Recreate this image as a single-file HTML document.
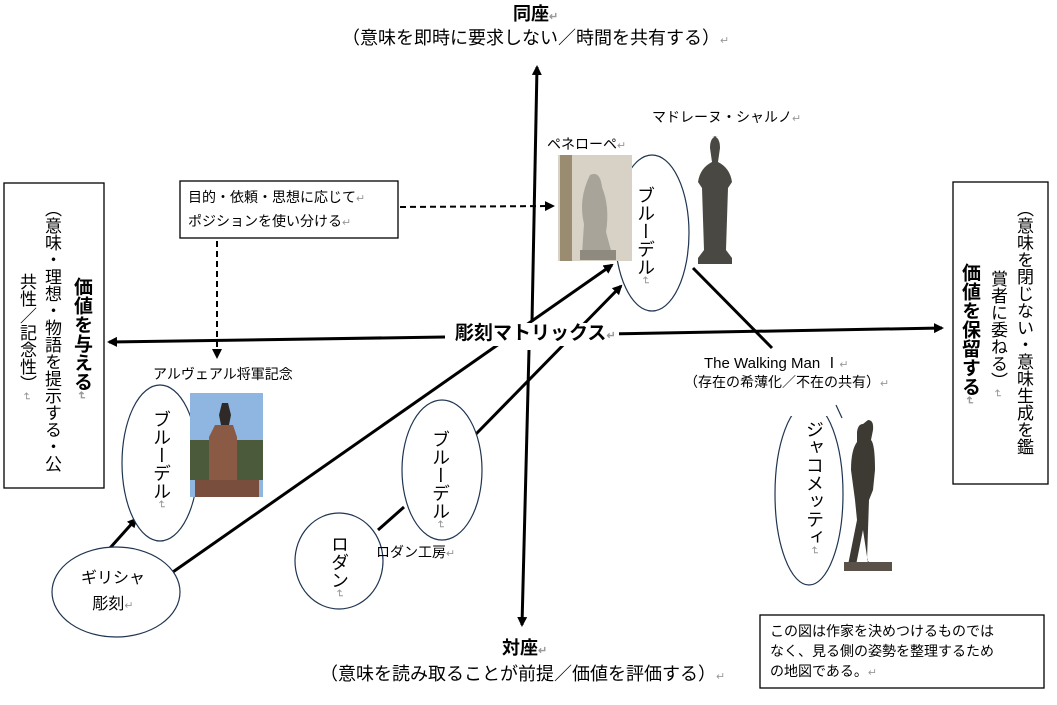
<!DOCTYPE html>
<html><head><meta charset="utf-8">
<style>
body{margin:0;background:#fff;}
#c{position:relative;width:1057px;height:705px;overflow:hidden;background:#fff;font-family:"Liberation Sans","Noto Sans CJK JP",sans-serif;color:#000;}
.t{position:absolute;white-space:nowrap;line-height:1.2;}
.v{position:absolute;writing-mode:vertical-rl;white-space:nowrap;line-height:1;}
.g{color:#999;font-size:11px;}
</style></head><body><div id="c">
<svg width="1057" height="705" style="position:absolute;left:0;top:0">
<defs>
<marker id="a" markerWidth="10" markerHeight="10" refX="8" refY="5" orient="auto" markerUnits="userSpaceOnUse"><path d="M0,0 L10,5 L0,10 z" fill="#000"/></marker>
</defs>
<g stroke="#000" stroke-width="3" fill="none">
<line x1="532" y1="322" x2="537" y2="67" marker-end="url(#a)"/>
<line x1="529" y1="350" x2="522" y2="625" marker-end="url(#a)"/>
<line x1="445" y1="337" x2="109" y2="342" marker-end="url(#a)"/>
<line x1="605" y1="334" x2="942" y2="328" marker-end="url(#a)"/>
<line x1="150" y1="588" x2="612" y2="265" marker-end="url(#a)"/>
<line x1="476" y1="434" x2="621" y2="286" marker-end="url(#a)"/>
<line x1="378" y1="530" x2="404" y2="507"/>
<line x1="110" y1="548" x2="136" y2="519" marker-end="url(#a)"/>
<line x1="693" y1="268" x2="772" y2="348"/>
</g>
<g stroke="#000" stroke-width="2" stroke-dasharray="6,4" fill="none">
<line x1="400" y1="207" x2="553" y2="206" marker-end="url(#a)"/>
<line x1="217" y1="241" x2="217" y2="357" marker-end="url(#a)"/>
</g>
<g stroke="#1f3550" stroke-width="1.2" fill="#fff">
<ellipse cx="652" cy="233" rx="37" ry="78"/>
<ellipse cx="160" cy="463" rx="38" ry="78"/>
<ellipse cx="116" cy="592" rx="64" ry="45"/>
<ellipse cx="339" cy="561" rx="44" ry="48"/>
<ellipse cx="442" cy="470" rx="40" ry="70"/>
<ellipse cx="809" cy="494" rx="34" ry="91"/>
</g>
<rect x="776" y="398" width="60" height="18" fill="#fff"/>
<line x1="836" y1="405" x2="842" y2="418" stroke="#1f3550" stroke-width="1.2"/>
<g fill="none" stroke="#000" stroke-width="1.3">
<rect x="4" y="183" width="100" height="305"/>
<rect x="953" y="182" width="95" height="302"/>
<rect x="180" y="181" width="218" height="57"/>
<rect x="760" y="615" width="284" height="73"/>
</g>
<rect x="558" y="155" width="74" height="106" fill="#d8d2c6"/>
<rect x="560" y="155" width="12" height="106" fill="#9a8c70"/>
<path d="M590,175 q10,-5 12,12 q8,20 4,45 l6,22 h-30 l2,-30 q-6,-25 6,-49z" fill="#a8a49a"/>
<rect x="580" y="250" width="36" height="10" fill="#8f8a80"/>
<path d="M712,136 q8,0 8,12 l-2,14 q12,6 14,20 l-4,6 l-2,62 l6,8 v6 h-34 v-6 l6,-8 l-2,-62 l-4,-6 q2,-14 14,-20 l-2,-14 q0,-12 8,-12z" fill="#4a4843"/>
<rect x="190" y="393" width="73" height="104" fill="#8fb6e0"/>
<rect x="190" y="440" width="73" height="40" fill="#4b5a3a"/>
<path d="M215,425 h18 l4,12 v50 h-28 v-50z" fill="#8a5a45"/>
<path d="M222,403 l6,0 l3,12 l-2,10 h-8 l-2,-10z" fill="#2f2a28"/>
<rect x="195" y="480" width="64" height="17" fill="#7a4e3c"/>
<path d="M868,420 q6,0 5,10 l-2,10 q4,4 4,30 l-2,20 l-4,10 l-2,60 l8,8 l-6,2 l-6,-40 l-8,40 l-8,0 l10,-50 l-2,-20 l-4,-30 q0,-20 6,-28 l0,-10 q1,-8 6,-8z" fill="#3d3a34"/>
<rect x="844" y="562" width="48" height="9" fill="#5a5248"/>
</svg>

<div class="t" style="left:513px;top:4px;font-size:18px;font-weight:bold">同座<span class="g">↵</span></div>
<div class="t" style="left:342px;top:28px;font-size:18px">（意味を即時に要求しない／時間を共有する）<span class="g">↵</span></div>
<div class="t" style="left:502px;top:638px;font-size:18px;font-weight:bold">対座<span class="g">↵</span></div>
<div class="t" style="left:320px;top:664px;font-size:18px">（意味を読み取ることが前提／価値を評価する）<span class="g">↵</span></div>
<div class="t" style="left:452px;top:323px;font-size:19px;font-weight:bold;background:#fff;padding:0 3px">彫刻マトリックス<span class="g">↵</span></div>

<div class="t" style="left:188px;top:186px;font-size:14px;line-height:22px">目的・依頼・思想に応じて<span class="g">↵</span><br>ポジションを使い分ける<span class="g">↵</span></div>

<div class="t" style="left:770px;top:621px;font-size:14px;line-height:20px">この図は作家を決めつけるものでは<br>なく、見る側の姿勢を整理するため<br>の地図である。<span class="g">↵</span></div>

<div class="t" style="left:652px;top:109px;font-size:14px">マドレーヌ・シャルノ<span class="g">↵</span></div>
<div class="t" style="left:547px;top:136px;font-size:14px">ペネローペ<span class="g">↵</span></div>
<div class="t" style="left:704px;top:355px;font-size:15px">The Walking Man Ⅰ<span class="g">↵</span></div>
<div class="t" style="left:684px;top:374px;font-size:14px">（存在の希薄化／不在の共有）<span class="g">↵</span></div>
<div class="t" style="left:153px;top:366px;font-size:14px">アルヴェアル将軍記念</div>
<div class="t" style="left:376px;top:544px;font-size:14px">ロダン工房<span class="g">↵</span></div>
<div class="t" style="left:81px;top:566px;font-size:16px;line-height:26px;text-align:center">ギリシャ<br>彫刻<span class="g">↵</span></div>

<div class="v" style="left:636px;top:186px;font-size:18px">ブルーデル<span class="g">↵</span></div>
<div class="v" style="left:152px;top:410px;font-size:18px">ブルーデル<span class="g">↵</span></div>
<div class="v" style="left:431px;top:430px;font-size:18px">ブルーデル<span class="g">↵</span></div>
<div class="v" style="left:330px;top:535px;font-size:18px">ロダン<span class="g">↵</span></div>
<div class="v" style="left:805px;top:420px;font-size:18px">ジャコメッティ<span class="g">↵</span></div>

<div class="v" style="left:72px;top:277px;font-size:19px;font-weight:bold">価値を与える<span class="g">↵</span></div>
<div class="v" style="left:43px;top:200px;font-size:17px">（意味・理想・物語を提示する・公</div>
<div class="v" style="left:18px;top:273px;font-size:17px">共性／記念性）<span class="g">↵</span></div>

<div class="v" style="left:1015px;top:200px;font-size:17px">（意味を閉じない・意味生成を鑑</div>
<div class="v" style="left:989px;top:270px;font-size:17px">賞者に委ねる）<span class="g">↵</span></div>
<div class="v" style="left:960px;top:263px;font-size:19px;font-weight:bold">価値を保留する<span class="g">↵</span></div>
</div></body></html>
